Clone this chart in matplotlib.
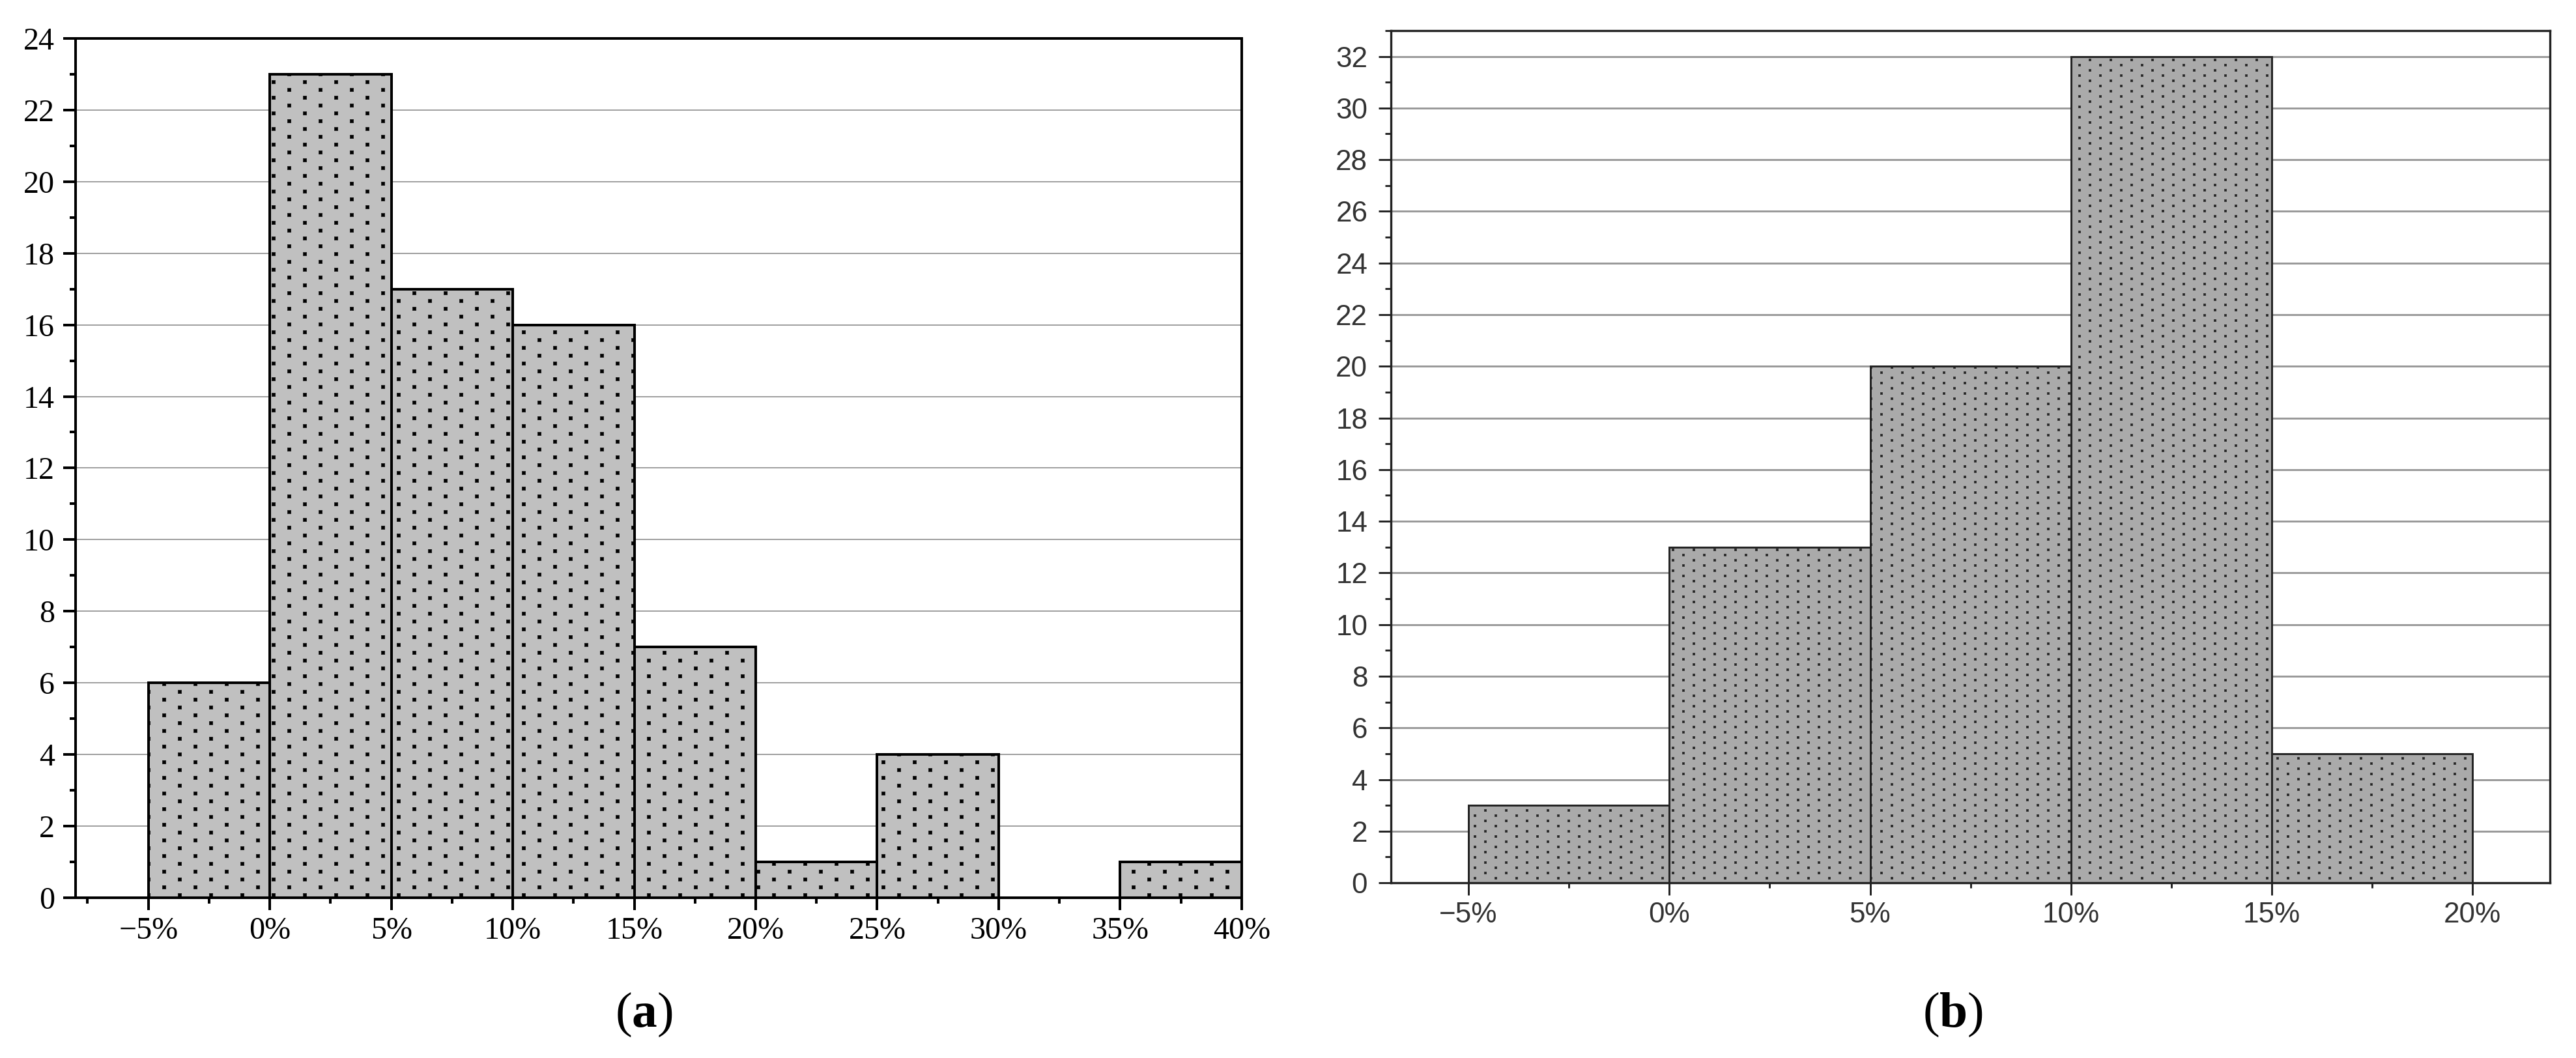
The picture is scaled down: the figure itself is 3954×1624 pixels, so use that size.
import numpy as np
import matplotlib
matplotlib.use("Agg")
import matplotlib.pyplot as plt
import matplotlib.hatch as mhatch
from matplotlib.path import Path
from matplotlib.ticker import FixedLocator
from matplotlib import font_manager

# ---------------- data ----------------
bins_a = [-5, 0, 5, 10, 15, 20, 25, 30, 35]
counts_a = [6, 23, 17, 16, 7, 1, 4, 0, 1]
xticks_a = [-5, 0, 5, 10, 15, 20, 25, 30, 35, 40]
xlabels_a = ["\u22125%", "0%", "5%", "10%", "15%", "20%", "25%", "30%", "35%", "40%"]
yticks_a = [0, 2, 4, 6, 8, 10, 12, 14, 16, 18, 20, 22, 24]

bins_b = [-5, 0, 5, 10, 15]
counts_b = [3, 13, 20, 32, 5]
xticks_b = [-5, 0, 5, 10, 15, 20]
xlabels_b = ["\u22125%", "0%", "5%", "10%", "15%", "20%"]
yticks_b = [0, 2, 4, 6, 8, 10, 12, 14, 16, 18, 20, 22, 24, 26, 28, 30, 32]

bin_width = 5

# ---------------- dotted hatch (square dots on a staggered lattice) ----------------
class DotLattice(mhatch.HatchPatternBase):
    SPECS = {1: (2, 4, 2.7 / 96), 2: (3, 6, 1.7 / 96)}

    def __init__(self, hatch, density):
        n = hatch.count('.')
        self.centers = []
        self.half = 0.0
        if n:
            nx, ny, h = self.SPECS[min(n, 2)]
            self.half = h
            for j in range(ny):
                for i in range(nx):
                    x0 = (i + 0.25) / nx
                    y0 = (j + 0.25) / ny
                    self.centers.append((x0, y0))
                    self.centers.append((x0 + 0.5 / nx, y0 + 0.5 / ny))
        self.num_vertices = 5 * len(self.centers)

    def set_vertices_and_codes(self, vertices, codes):
        sq = np.array([[-1, -1], [1, -1], [1, 1], [-1, 1], [-1, -1]], float) * self.half
        for k, (cx, cy) in enumerate(self.centers):
            vertices[5 * k:5 * k + 5] = sq + np.array([cx, cy])
            codes[5 * k:5 * k + 5] = [Path.MOVETO, Path.LINETO, Path.LINETO,
                                      Path.LINETO, Path.CLOSEPOLY]

mhatch._hatch_types = [DotLattice]
plt.rcParams['hatch.linewidth'] = 0.3

# ---------------- fonts ----------------
names = {f.name for f in font_manager.fontManager.ttflist}
serif = 'Liberation Serif'
sans_b = 'Liberation Sans Narrow' if 'Liberation Sans Narrow' in names else 'Liberation Sans'
plt.rcParams['mathtext.fontset'] = 'custom'
plt.rcParams['mathtext.rm'] = 'Liberation Serif'
plt.rcParams['mathtext.bf'] = 'Liberation Serif:bold'

DPI = 96
fig = plt.figure(figsize=(3954 / DPI, 1624 / DPI), dpi=DPI)

# ---------------- panel (a) ----------------
axa = fig.add_axes([0.0293, 0.1515, 0.4820 - 0.0293, 0.9637 - 0.1515])
axa.bar(bins_a, counts_a, width=bin_width, align='edge', color='#c0c0c0',
        edgecolor='black', linewidth=3, hatch='.', zorder=3)
axa.set_xlim(-8.0, 40)
axa.set_ylim(0, 24)
axa.set_axisbelow(True)
axa.yaxis.grid(True, which='major', color='#a0a0a0', linewidth=1.5, zorder=0)
axa.set_xticks(xticks_a)
axa.set_xticklabels(xlabels_a, fontfamily=serif, fontsize=36, color='black')
axa.set_yticks(yticks_a)
axa.set_yticklabels([str(v) for v in yticks_a], fontfamily=serif, fontsize=36, color='black')
axa.xaxis.set_minor_locator(FixedLocator([v - 2.5 for v in xticks_a]))
axa.yaxis.set_minor_locator(FixedLocator(list(range(1, 24, 2))))
for sp in axa.spines.values():
    sp.set_linewidth(3)
    sp.set_color('black')
    sp.set_zorder(4)
axa.tick_params(axis='x', which='major', direction='out', length=14, width=3, pad=8)
axa.tick_params(axis='x', which='minor', direction='out', length=7, width=3)
axa.tick_params(axis='y', which='major', direction='out', length=14, width=3, pad=10)
axa.tick_params(axis='y', which='minor', direction='out', length=7, width=3)

# ---------------- panel (b) ----------------
dark = '#333333'
axb = fig.add_axes([0.5400, 0.1656, 0.9899 - 0.5400, 0.9711 - 0.1656])
axb.bar(bins_b, counts_b, width=bin_width, align='edge', color='#aaaaaa',
        edgecolor='#222222', linewidth=2.2, hatch='..', zorder=3)
axb.set_xlim(-6.93, 21.93)
axb.set_ylim(0, 33)
axb.set_axisbelow(True)
axb.yaxis.grid(True, which='major', color='#999999', linewidth=2.2, zorder=0)
axb.set_xticks(xticks_b)
axb.set_xticklabels(xlabels_b, fontfamily=sans_b, fontsize=33, color=dark)
axb.set_yticks(yticks_b)
axb.set_yticklabels([str(v) for v in yticks_b], fontfamily=sans_b, fontsize=33, color=dark)
axb.xaxis.set_minor_locator(FixedLocator([v - 2.5 for v in xticks_b[1:]]))
axb.yaxis.set_minor_locator(FixedLocator(list(range(1, 34, 2))))
for sp in axb.spines.values():
    sp.set_linewidth(2.5)
    sp.set_color('#222222')
    sp.set_zorder(4)
axb.tick_params(axis='x', which='major', direction='out', length=14, width=2.2,
                pad=8, colors='#222222', labelcolor=dark)
axb.tick_params(axis='x', which='minor', direction='out', length=6, width=2.2, colors='#222222')
axb.tick_params(axis='y', which='major', direction='out', length=14, width=2.2,
                pad=13, colors='#222222', labelcolor=dark)
axb.tick_params(axis='y', which='minor', direction='out', length=7, width=2.2, colors='#222222')

# ---------------- panel captions ----------------
fig.text(0.2499, 0.041, r"($\mathbf{a}$)", fontfamily=serif, fontsize=58,
         ha='center', va='center')
fig.text(0.758, 0.041, r"($\mathbf{b}$)", fontfamily=serif, fontsize=58,
         ha='center', va='center')

fig.savefig("out.png", dpi=DPI)
